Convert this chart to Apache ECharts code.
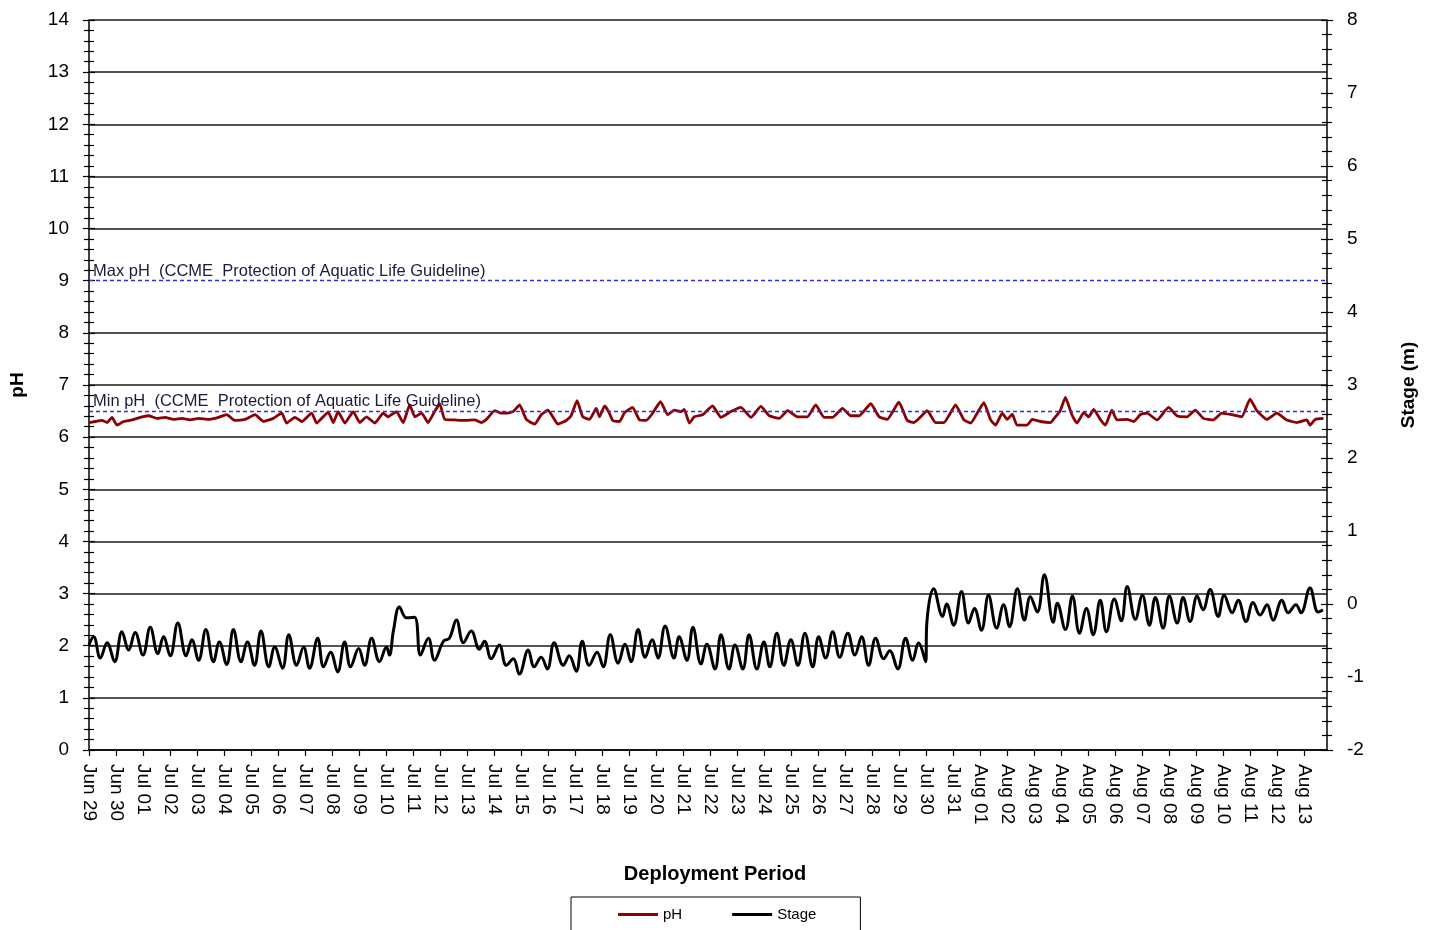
<!DOCTYPE html>
<html>
<head>
<meta charset="utf-8">
<title>pH and Stage - Deployment Period</title>
<script src="https://cdn.jsdelivr.net/npm/echarts@6/dist/echarts.min.js"></script>
<style>
  html, body { margin: 0; padding: 0; background: #fff; }
  #chart { width: 1434px; height: 930px; }
</style>
</head>
<body>
<div id="chart"></div>
<script>
// Day tick labels, one per day starting at Jun 29 (day 0)
const dayLabels = [
  'Jun 29', 'Jun 30',
  'Jul 01', 'Jul 02', 'Jul 03', 'Jul 04', 'Jul 05', 'Jul 06', 'Jul 07', 'Jul 08',
  'Jul 09', 'Jul 10', 'Jul 11', 'Jul 12', 'Jul 13', 'Jul 14', 'Jul 15', 'Jul 16',
  'Jul 17', 'Jul 18', 'Jul 19', 'Jul 20', 'Jul 21', 'Jul 22', 'Jul 23', 'Jul 24',
  'Jul 25', 'Jul 26', 'Jul 27', 'Jul 28', 'Jul 29', 'Jul 30', 'Jul 31',
  'Aug 01', 'Aug 02', 'Aug 03', 'Aug 04', 'Aug 05', 'Aug 06', 'Aug 07', 'Aug 08',
  'Aug 09', 'Aug 10', 'Aug 11', 'Aug 12', 'Aug 13'
];

// pH readings: [days since Jun 29 00:00, pH]
const phReadings = [
  [0.00, 6.28], [0.23, 6.30], [0.48, 6.32], [0.67, 6.28], [0.85, 6.38], [1.04, 6.23],
  [1.28, 6.30], [1.59, 6.33], [1.90, 6.38], [2.21, 6.41], [2.51, 6.36], [2.82, 6.38],
  [3.13, 6.34], [3.44, 6.36], [3.75, 6.33], [4.06, 6.36], [4.43, 6.34], [4.80, 6.38],
  [5.10, 6.43], [5.41, 6.32], [5.78, 6.34], [6.15, 6.43], [6.46, 6.30], [6.83, 6.36],
  [7.14, 6.46], [7.32, 6.27], [7.63, 6.38], [7.88, 6.30], [8.25, 6.46], [8.43, 6.27],
  [8.62, 6.36], [8.86, 6.48], [9.05, 6.28], [9.23, 6.49], [9.48, 6.27], [9.79, 6.49],
  [10.03, 6.28], [10.28, 6.39], [10.59, 6.27], [10.90, 6.46], [11.08, 6.39], [11.39, 6.49],
  [11.64, 6.28], [11.88, 6.62], [12.07, 6.39], [12.32, 6.46], [12.56, 6.28], [12.78, 6.47],
  [12.99, 6.64], [13.18, 6.34], [13.55, 6.33], [13.92, 6.32], [14.29, 6.33], [14.53, 6.28],
  [14.72, 6.34], [15.03, 6.51], [15.27, 6.46], [15.46, 6.46], [15.71, 6.49], [15.95, 6.62],
  [16.20, 6.34], [16.51, 6.25], [16.75, 6.43], [17.00, 6.52], [17.18, 6.39], [17.37, 6.25],
  [17.68, 6.32], [17.86, 6.41], [18.08, 6.70], [18.29, 6.39], [18.54, 6.34], [18.79, 6.55],
  [18.91, 6.39], [19.10, 6.60], [19.25, 6.49], [19.40, 6.32], [19.65, 6.30], [19.84, 6.47],
  [20.14, 6.57], [20.39, 6.33], [20.64, 6.32], [20.88, 6.46], [21.17, 6.68], [21.44, 6.43],
  [21.68, 6.52], [21.93, 6.49], [22.05, 6.53], [22.24, 6.27], [22.42, 6.39], [22.73, 6.43],
  [23.10, 6.60], [23.41, 6.38], [23.78, 6.49], [24.15, 6.57], [24.52, 6.38], [24.89, 6.59],
  [25.20, 6.41], [25.57, 6.36], [25.88, 6.51], [26.25, 6.39], [26.61, 6.39], [26.92, 6.62],
  [27.23, 6.38], [27.54, 6.38], [27.91, 6.55], [28.22, 6.41], [28.53, 6.41], [28.96, 6.64],
  [29.27, 6.39], [29.57, 6.34], [30.00, 6.67], [30.31, 6.32], [30.56, 6.28], [30.81, 6.39],
  [31.05, 6.51], [31.36, 6.28], [31.67, 6.28], [31.85, 6.41], [32.10, 6.62], [32.41, 6.33],
  [32.66, 6.27], [32.90, 6.46], [33.15, 6.66], [33.40, 6.33], [33.58, 6.23], [33.83, 6.46],
  [34.01, 6.34], [34.20, 6.44], [34.38, 6.23], [34.75, 6.23], [34.94, 6.34], [35.24, 6.30],
  [35.61, 6.28], [35.80, 6.39], [35.98, 6.51], [36.17, 6.76], [36.41, 6.43], [36.60, 6.27],
  [36.85, 6.47], [37.03, 6.39], [37.22, 6.53], [37.46, 6.34], [37.65, 6.23], [37.89, 6.52],
  [38.08, 6.33], [38.45, 6.34], [38.70, 6.30], [38.94, 6.43], [39.19, 6.46], [39.56, 6.33],
  [39.99, 6.57], [40.30, 6.41], [40.67, 6.39], [40.98, 6.52], [41.28, 6.36], [41.65, 6.33],
  [41.96, 6.46], [42.33, 6.43], [42.70, 6.39], [43.01, 6.73], [43.26, 6.51], [43.63, 6.34],
  [44.00, 6.46], [44.37, 6.33], [44.74, 6.28], [45.11, 6.33], [45.23, 6.23], [45.42, 6.34],
  [45.73, 6.36]
];

// Stage readings (m): [days since Jun 29 00:00, stage]
const stageReadings = [
  [0.00, -0.56], [0.17, -0.45], [0.42, -0.74], [0.67, -0.53], [0.95, -0.79], [1.22, -0.38],
  [1.47, -0.63], [1.71, -0.39], [2.00, -0.70], [2.27, -0.32], [2.55, -0.68], [2.76, -0.45],
  [3.01, -0.71], [3.29, -0.26], [3.60, -0.71], [3.81, -0.49], [4.06, -0.77], [4.33, -0.35],
  [4.61, -0.79], [4.83, -0.52], [5.10, -0.83], [5.35, -0.35], [5.63, -0.79], [5.87, -0.52],
  [6.13, -0.84], [6.37, -0.37], [6.66, -0.86], [6.88, -0.59], [7.17, -0.88], [7.40, -0.42],
  [7.69, -0.84], [7.95, -0.59], [8.17, -0.88], [8.47, -0.47], [8.69, -0.86], [8.95, -0.66],
  [9.21, -0.93], [9.47, -0.52], [9.69, -0.86], [9.99, -0.61], [10.21, -0.84], [10.47, -0.47],
  [10.76, -0.79], [11.02, -0.59], [11.13, -0.70], [11.28, -0.36], [11.50, -0.04], [11.76, -0.19],
  [12.06, -0.18], [12.28, -0.70], [12.57, -0.47], [12.80, -0.77], [13.13, -0.51], [13.35, -0.47],
  [13.61, -0.22], [13.87, -0.53], [14.16, -0.37], [14.46, -0.62], [14.65, -0.51], [14.90, -0.75],
  [15.20, -0.56], [15.46, -0.84], [15.72, -0.75], [15.94, -0.96], [16.27, -0.63], [16.49, -0.86],
  [16.75, -0.73], [16.98, -0.89], [17.23, -0.53], [17.57, -0.84], [17.79, -0.71], [18.05, -0.92],
  [18.27, -0.51], [18.53, -0.84], [18.82, -0.66], [19.05, -0.86], [19.31, -0.42], [19.60, -0.81],
  [19.86, -0.55], [20.08, -0.79], [20.34, -0.35], [20.60, -0.73], [20.86, -0.49], [21.08, -0.74],
  [21.34, -0.30], [21.67, -0.74], [21.86, -0.45], [22.15, -0.77], [22.37, -0.32], [22.67, -0.82],
  [22.89, -0.55], [23.19, -0.89], [23.41, -0.42], [23.71, -0.89], [23.93, -0.56], [24.22, -0.89],
  [24.45, -0.42], [24.74, -0.89], [25.00, -0.52], [25.22, -0.86], [25.48, -0.40], [25.74, -0.84],
  [26.00, -0.49], [26.26, -0.84], [26.52, -0.40], [26.81, -0.86], [27.03, -0.45], [27.29, -0.74],
  [27.55, -0.38], [27.81, -0.73], [28.11, -0.40], [28.37, -0.70], [28.62, -0.45], [28.88, -0.84],
  [29.14, -0.47], [29.44, -0.75], [29.66, -0.64], [29.96, -0.89], [30.25, -0.47], [30.51, -0.77],
  [30.73, -0.53], [30.99, -0.79], [31.04, -0.24], [31.29, 0.21], [31.62, -0.17], [31.77, 0.00],
  [32.03, -0.29], [32.32, 0.17], [32.58, -0.26], [32.80, -0.06], [33.06, -0.36], [33.32, 0.12],
  [33.62, -0.33], [33.88, -0.01], [34.10, -0.31], [34.39, 0.21], [34.65, -0.22], [34.87, 0.10],
  [35.13, -0.11], [35.39, 0.40], [35.72, -0.25], [35.87, 0.01], [36.17, -0.35], [36.43, 0.11],
  [36.69, -0.40], [36.95, -0.06], [37.20, -0.42], [37.46, 0.05], [37.69, -0.38], [37.98, 0.07],
  [38.24, -0.23], [38.46, 0.24], [38.76, -0.21], [39.02, 0.12], [39.28, -0.29], [39.50, 0.09],
  [39.79, -0.33], [40.02, 0.11], [40.31, -0.26], [40.53, 0.09], [40.79, -0.24], [41.05, 0.11],
  [41.27, -0.08], [41.53, 0.20], [41.83, -0.17], [42.05, 0.12], [42.35, -0.12], [42.57, 0.05],
  [42.86, -0.24], [43.12, 0.02], [43.38, -0.15], [43.64, -0.01], [43.86, -0.22], [44.19, 0.05],
  [44.42, -0.12], [44.71, -0.01], [44.90, -0.12], [45.23, 0.22], [45.53, -0.11], [45.71, -0.08]
];

// CCME guideline levels and their captions
const guideValues = [9, 6.5];
const guideLabels = [
  'Max pH  (CCME  Protection of Aquatic Life Guideline)',
  'Min pH  (CCME  Protection of Aquatic Life Guideline)'
];

const FONT = 'Liberation Sans, Arial, sans-serif';
const chart = echarts.init(document.getElementById('chart'), null, { renderer: 'canvas' });

// Shared styling for the value axes; "inside" copies add ticks on the plot side
function valueAxis(pos, min, max, withLabels, inside) {
  return {
    type: 'value',
    position: pos,
    min: min,
    max: max,
    interval: 1,
    axisLine: { show: withLabels, lineStyle: { color: '#000', width: 1.5 } },
    axisTick: { show: true, inside: inside, length: 6, lineStyle: { color: '#000', width: 1.2 } },
    minorTick: { show: true, splitNumber: 5, length: 5, lineStyle: { color: '#000', width: 1.2 } },
    axisLabel: {
      show: withLabels, color: '#000', fontFamily: FONT, fontSize: 19, margin: 20
    },
    splitLine: { show: false }
  };
}

// Horizontal gridlines at every whole pH, except where the max guideline sits
const gridColors = [];
for (let v = 0; v <= 14; v++) {
  gridColors.push(guideValues.indexOf(v) >= 0 ? 'rgba(0,0,0,0)' : '#1a1a1a');
}

const leftAxis = valueAxis('left', 0, 14, true, false);
leftAxis.name = 'pH';
leftAxis.nameLocation = 'middle';
leftAxis.nameRotate = 90;
leftAxis.nameGap = 62;
leftAxis.nameTextStyle = { color: '#000', fontFamily: FONT, fontSize: 19, fontWeight: 'bold' };
leftAxis.splitLine = { show: true, lineStyle: { color: gridColors, width: 1.5 } };

const rightAxis = valueAxis('right', -2, 8, true, false);
rightAxis.name = 'Stage (m)';
rightAxis.nameLocation = 'middle';
rightAxis.nameRotate = 90;
rightAxis.nameGap = 72;
rightAxis.nameTextStyle = { color: '#000', fontFamily: FONT, fontSize: 19, fontWeight: 'bold' };

const option = {
  animation: false,
  backgroundColor: '#fff',
  grid: { left: 87, right: 107, top: 20, bottom: 180, containLabel: false },
  legend: {
    left: 571,
    top: 897,
    padding: [10, 44, 20, 47],
    itemGap: 50,
    itemWidth: 40,
    itemHeight: 3,
    icon: 'rect',
    borderColor: '#000',
    borderWidth: 1,
    textStyle: { color: '#000', fontFamily: FONT, fontSize: 15, padding: [0, 0, 0, 0] },
    data: ['pH', 'Stage']
  },
  xAxis: {
    type: 'value',
    min: 0,
    max: 45.86,
    interval: 1,
    name: 'Deployment Period',
    nameLocation: 'middle',
    nameGap: 114,
    nameTextStyle: { color: '#000', fontFamily: FONT, fontSize: 20, fontWeight: 'bold', padding: [0, 0, 0, 14] },
    axisLine: { show: true, lineStyle: { color: '#000', width: 1.5 } },
    axisTick: { show: true, inside: false, length: 6, lineStyle: { color: '#000', width: 1.2 } },
    axisLabel: {
      color: '#000',
      fontFamily: FONT,
      fontSize: 19,
      rotate: -90,
      margin: 14,
      showMaxLabel: false,
      formatter: function (v) {
        return Number.isInteger(v) && dayLabels[v] ? dayLabels[v] : '';
      }
    },
    splitLine: { show: false }
  },
  yAxis: [
    leftAxis,
    rightAxis,
    valueAxis('left', 0, 14, false, true),
    valueAxis('right', -2, 8, false, true)
  ],
  series: [
    {
      name: 'pH',
      type: 'line',
      yAxisIndex: 0,
      data: phReadings,
      symbol: 'none',
      smooth: 0.15,
      lineStyle: { color: '#8b0000', width: 2.8 },
      itemStyle: { color: '#8b0000' },
      z: 3,
      markLine: {
        silent: true,
        symbol: 'none',
        lineStyle: { color: '#2d2de6', type: [4, 3], width: 1.4 },
        label: {
          show: true,
          position: 'insideStartTop',
          distance: [4, 1],
          color: '#1a1a40',
          fontFamily: FONT,
          fontSize: 16.5,
          formatter: function (p) { return p.name; }
        },
        data: guideValues.map(function (v, i) { return { yAxis: v, name: guideLabels[i] }; })
      }
    },
    {
      name: 'Stage',
      type: 'line',
      yAxisIndex: 1,
      data: stageReadings,
      symbol: 'none',
      smooth: 0.4,
      lineStyle: { color: '#000', width: 3 },
      itemStyle: { color: '#000' },
      z: 2
    }
  ]
};

chart.setOption(option);
</script>
</body>
</html>
